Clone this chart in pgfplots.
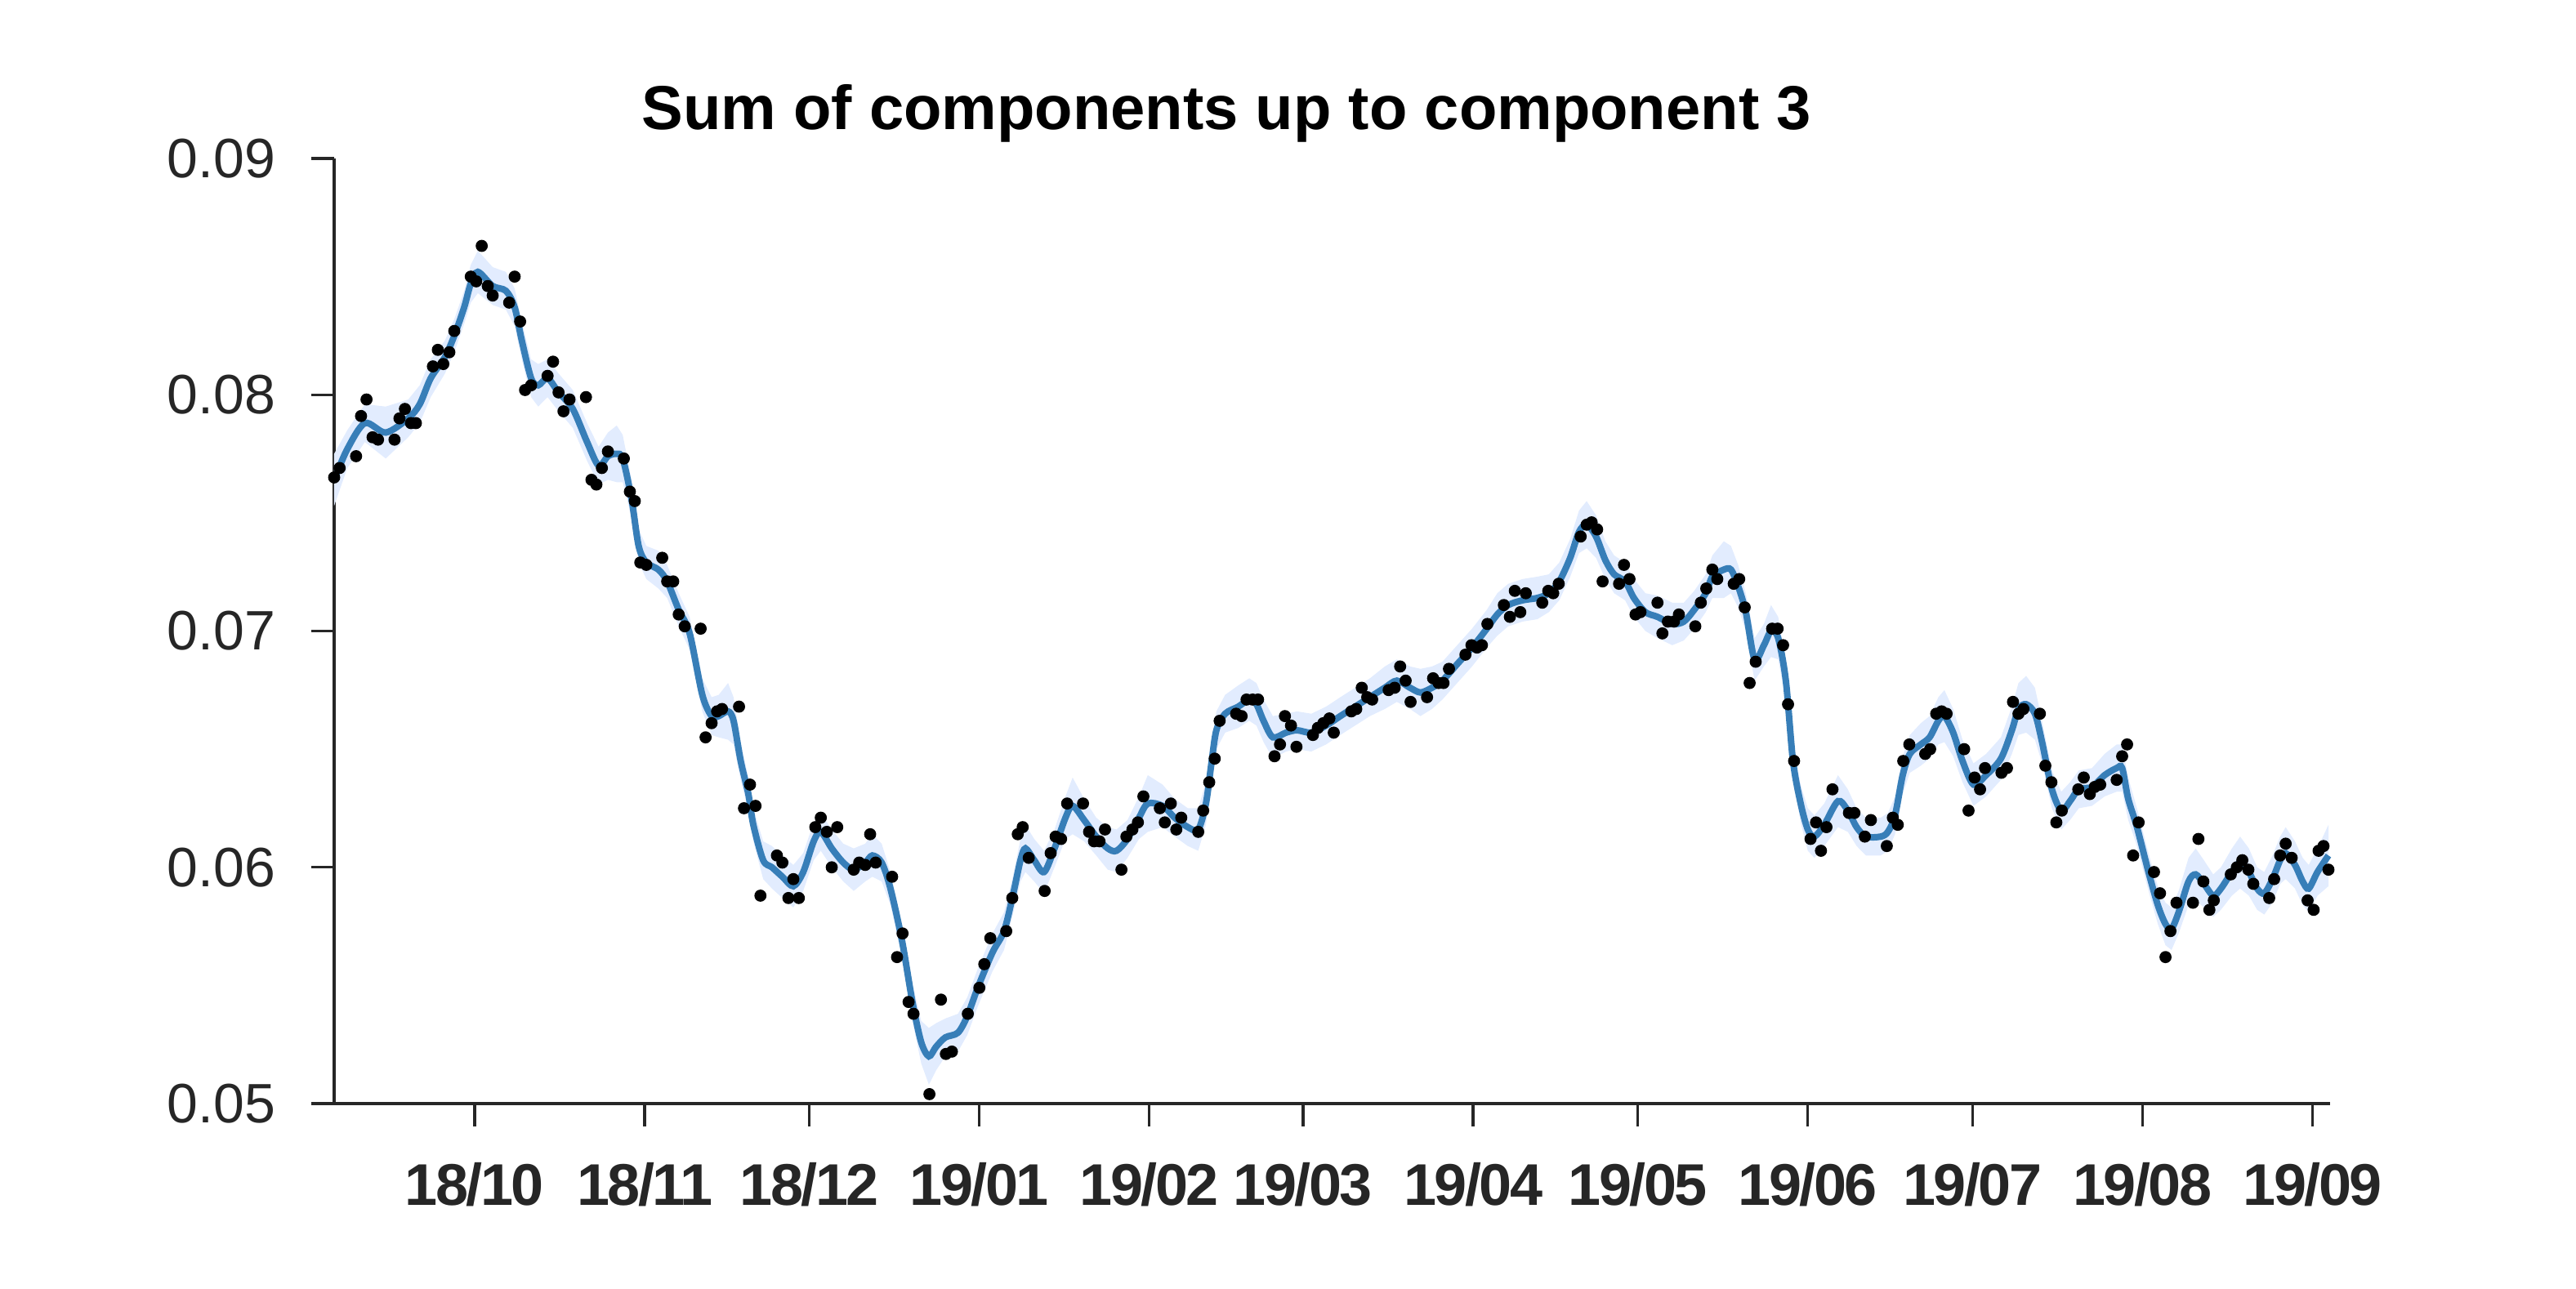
\documentclass[border=0pt]{standalone}
\usepackage{fontspec}
\setmainfont{Liberation Sans}
\newfontfamily\xlabfont[LetterSpace=-3.5]{Liberation Sans}
\usepackage{pgfplots}
\pgfplotsset{compat=1.18}
\usepackage{pgfplotstable}
\usepgfplotslibrary{fillbetween}
\definecolor{fitblue}{HTML}{377EB8}
\definecolor{bandblue}{HTML}{E2ECFE}
\definecolor{axgray}{HTML}{262626}

% x = days since 2018-10-01
\pgfplotstableread{
d v
-25.6 0.0765
-24.6 0.0769
-21.6 0.0774
-20.7 0.0791
-19.7 0.0798
-18.6 0.0782
-17.6 0.0781
-14.6 0.0781
-13.7 0.0790
-12.7 0.0794
-11.6 0.0788
-10.7 0.0788
-7.6 0.0812
-6.7 0.0819
-5.7 0.0813
-4.6 0.0818
-3.7 0.0827
-0.7 0.0850
0.3 0.0848
1.3 0.0863
2.4 0.0846
3.3 0.0842
6.3 0.0839
7.3 0.0850
8.3 0.0831
9.2 0.0802
10.3 0.0804
13.3 0.0808
14.3 0.0814
15.3 0.0801
16.2 0.0793
17.3 0.0798
20.3 0.0799
21.3 0.0764
22.2 0.0762
23.2 0.0769
24.3 0.0776
27.2 0.0773
28.3 0.0759
29.2 0.0755
30.2 0.0729
31.3 0.0728
34.2 0.0731
35.1 0.0721
36.2 0.0721
37.2 0.0707
38.3 0.0702
41.2 0.0701
42.1 0.0655
43.2 0.0661
44.2 0.0666
45.1 0.0667
48.2 0.0668
49.1 0.0625
50.2 0.0635
51.2 0.0626
52.1 0.0588
55.1 0.0605
56.1 0.0602
57.2 0.0587
58.1 0.0595
59.1 0.0587
62.1 0.0617
63.1 0.0621
64.2 0.0615
65.1 0.0600
66.1 0.0617
69.1 0.0599
70.1 0.0602
71.2 0.0601
72.1 0.0614
73.1 0.0602
76.1 0.0596
77.0 0.0562
78.0 0.0572
79.1 0.0543
80.0 0.0538
82.9 0.0504
85.0 0.0544
85.9 0.0521
87.0 0.0522
89.9 0.0538
92.0 0.0549
92.9 0.0559
94.0 0.0570
96.9 0.0573
98.0 0.0587
99.0 0.0614
99.9 0.0617
101.0 0.0604
103.9 0.0590
105.0 0.0606
105.9 0.0613
106.9 0.0612
108.0 0.0627
110.9 0.0627
112.0 0.0615
112.9 0.0611
113.9 0.0611
114.9 0.0616
117.9 0.0599
118.8 0.0613
119.9 0.0616
120.9 0.0619
121.9 0.0630
124.9 0.0625
125.8 0.0619
126.9 0.0627
127.9 0.0616
128.8 0.0621
131.9 0.0615
132.8 0.0624
133.9 0.0636
134.9 0.0646
135.8 0.0662
138.8 0.0665
139.8 0.0664
140.7 0.0671
141.8 0.0671
142.8 0.0671
145.8 0.0647
146.8 0.0652
147.7 0.0664
148.8 0.0660
149.8 0.0651
152.8 0.0656
153.7 0.0659
154.7 0.0661
155.8 0.0663
156.6 0.0657
159.8 0.0666
160.7 0.0667
161.7 0.0676
162.7 0.0672
163.6 0.0671
166.6 0.0675
167.7 0.0676
168.7 0.0685
169.7 0.0679
170.6 0.0670
173.6 0.0672
174.7 0.0680
175.7 0.0678
176.6 0.0678
177.6 0.0684
180.6 0.0690
181.7 0.0694
182.7 0.0693
183.6 0.0694
184.6 0.0703
187.6 0.0711
188.7 0.0706
189.6 0.0717
190.6 0.0708
191.6 0.0716
194.6 0.0712
195.7 0.0717
196.6 0.0716
197.6 0.0720
201.6 0.0740
202.7 0.0745
203.6 0.0746
204.6 0.0743
205.6 0.0721
208.6 0.0720
209.5 0.0728
210.5 0.0722
211.6 0.0707
212.5 0.0708
215.6 0.0712
216.5 0.0699
217.5 0.0704
218.6 0.0704
219.5 0.0707
222.5 0.0702
223.5 0.0712
224.5 0.0718
225.6 0.0726
226.5 0.0722
229.5 0.0720
230.5 0.0722
231.5 0.0710
232.4 0.0678
233.5 0.0687
236.5 0.0701
237.5 0.0701
238.5 0.0694
239.4 0.0669
240.5 0.0645
243.5 0.0612
244.5 0.0619
245.4 0.0607
246.4 0.0617
247.5 0.0633
250.5 0.0623
251.5 0.0623
253.4 0.0613
254.5 0.0620
257.4 0.0609
258.5 0.0621
259.4 0.0618
260.4 0.0645
261.5 0.0652
264.4 0.0648
265.3 0.0650
266.4 0.0665
267.4 0.0666
268.3 0.0665
271.5 0.0650
272.3 0.0624
273.4 0.0638
274.4 0.0633
275.3 0.0642
278.3 0.0640
279.3 0.0642
280.4 0.0670
281.4 0.0665
282.3 0.0667
285.3 0.0665
286.3 0.0643
287.4 0.0636
288.3 0.0619
289.3 0.0624
292.3 0.0633
293.3 0.0638
294.4 0.0631
295.3 0.0634
296.3 0.0635
299.3 0.0637
300.3 0.0647
301.2 0.0652
302.3 0.0605
303.3 0.0619
306.1 0.0598
307.2 0.0589
308.2 0.0562
309.1 0.0573
310.2 0.0585
313.2 0.0585
314.2 0.0612
315.1 0.0594
316.2 0.0582
317.0 0.0586
320.1 0.0597
321.2 0.0600
322.2 0.0603
323.3 0.0599
324.2 0.0593
327.1 0.0587
328.0 0.0595
329.1 0.0605
330.1 0.0610
331.2 0.0604
334.1 0.0586
335.2 0.0582
336.1 0.0607
337.0 0.0609
337.9 0.0599
}\obs

% fitted sum of components and half-width of the shaded band
\pgfplotstableread{
d f e
-25.6 0.0764 0.0011
-23.2 0.0777 0.0008
-20.0 0.0788 0.0008
-16.2 0.0784 0.0011
-12.1 0.0790 0.0008
-10.0 0.0796 0.0008
-8.0 0.0807 0.0008
-5.4 0.0816 0.0007
-3.7 0.0825 0.0007
-1.9 0.0837 0.0007
-0.7 0.0847 0.0008
0.6 0.0852 0.0009
3.3 0.0846 0.0008
5.7 0.0844 0.0008
7.3 0.0837 0.0008
8.6 0.0823 0.0008
10.3 0.0807 0.0008
11.6 0.0804 0.0009
13.3 0.0807 0.0008
15.3 0.0801 0.0008
17.9 0.0794 0.0008
20.5 0.0780 0.0008
22.6 0.0770 0.0008
24.3 0.0774 0.0010
25.9 0.0775 0.0012
27.0 0.0773 0.0010
28.6 0.0756 0.0008
29.9 0.0736 0.0007
31.3 0.0729 0.0007
33.5 0.0726 0.0008
35.1 0.0721 0.0007
37.2 0.0709 0.0007
39.2 0.0699 0.0007
41.5 0.0673 0.0007
43.2 0.0664 0.0008
44.5 0.0664 0.0009
46.2 0.0666 0.0012
47.2 0.0662 0.0010
48.5 0.0645 0.0008
49.9 0.0631 0.0007
50.8 0.0618 0.0007
52.6 0.0603 0.0008
54.2 0.0600 0.0009
56.1 0.0596 0.0009
58.1 0.0592 0.0009
59.9 0.0598 0.0008
61.8 0.0611 0.0008
63.1 0.0615 0.0008
65.1 0.0608 0.0008
67.2 0.0602 0.0008
69.1 0.0599 0.0009
71.2 0.0602 0.0008
72.5 0.0605 0.0009
74.2 0.0602 0.0008
75.8 0.0591 0.0007
77.9 0.0569 0.0007
79.8 0.0543 0.0008
81.4 0.0526 0.0009
82.8 0.0520 0.0012
84.1 0.0524 0.0010
85.8 0.0528 0.0008
88.1 0.0530 0.0008
89.8 0.0537 0.0008
91.7 0.0549 0.0008
94.4 0.0564 0.0008
96.5 0.0573 0.0008
98.1 0.0588 0.0008
99.5 0.0603 0.0009
100.4 0.0608 0.0010
102.0 0.0603 0.0009
103.8 0.0598 0.0009
105.7 0.0608 0.0008
107.7 0.0621 0.0009
109.0 0.0626 0.0012
111.1 0.0620 0.0009
113.3 0.0613 0.0008
115.4 0.0608 0.0009
117.0 0.0607 0.0009
119.0 0.0612 0.0008
121.1 0.0621 0.0009
122.7 0.0627 0.0012
125.4 0.0626 0.0009
127.6 0.0621 0.0008
130.0 0.0617 0.0008
131.9 0.0616 0.0009
133.3 0.0627 0.0009
134.3 0.0644 0.0008
135.2 0.0658 0.0008
136.8 0.0665 0.0008
139.2 0.0668 0.0009
141.2 0.0671 0.0009
142.5 0.0669 0.0009
143.8 0.0662 0.0009
145.5 0.0655 0.0009
147.9 0.0657 0.0008
149.9 0.0658 0.0008
152.5 0.0657 0.0008
155.2 0.0660 0.0008
157.8 0.0664 0.0008
160.5 0.0668 0.0008
163.2 0.0672 0.0008
165.9 0.0676 0.0009
168.1 0.0679 0.0009
170.5 0.0676 0.0009
172.4 0.0674 0.0010
174.5 0.0676 0.0009
176.4 0.0679 0.0008
179.1 0.0686 0.0008
181.8 0.0693 0.0008
184.5 0.0701 0.0008
186.4 0.0707 0.0009
188.4 0.0711 0.0009
191.0 0.0713 0.0009
193.7 0.0714 0.0009
195.8 0.0716 0.0008
197.7 0.0721 0.0008
199.7 0.0731 0.0008
201.3 0.0742 0.0009
202.7 0.0745 0.0010
204.4 0.0740 0.0009
206.1 0.0730 0.0008
207.7 0.0724 0.0008
209.7 0.0721 0.0008
211.3 0.0714 0.0008
213.4 0.0708 0.0008
215.6 0.0706 0.0009
218.3 0.0703 0.0009
220.4 0.0704 0.0008
222.3 0.0709 0.0008
224.4 0.0716 0.0008
225.6 0.0723 0.0009
227.7 0.0726 0.0012
229.0 0.0726 0.0010
230.3 0.0719 0.0009
231.7 0.0708 0.0008
233.3 0.0688 0.0009
235.0 0.0694 0.0009
236.3 0.0700 0.0011
237.6 0.0697 0.0009
239.0 0.0679 0.0008
240.3 0.0645 0.0007
241.7 0.0627 0.0008
243.0 0.0616 0.0009
244.2 0.0613 0.0009
246.0 0.0618 0.0009
248.5 0.0628 0.0011
250.3 0.0624 0.0009
251.9 0.0617 0.0008
253.6 0.0613 0.0008
256.3 0.0613 0.0008
257.6 0.0615 0.0008
258.9 0.0622 0.0008
260.3 0.0639 0.0008
261.6 0.0648 0.0008
263.6 0.0652 0.0009
265.2 0.0655 0.0009
266.8 0.0662 0.0010
267.9 0.0664 0.0011
269.5 0.0657 0.0010
271.2 0.0645 0.0009
273.2 0.0635 0.0009
275.5 0.0639 0.0009
278.2 0.0646 0.0009
280.2 0.0658 0.0010
281.4 0.0667 0.0011
282.8 0.0669 0.0012
284.4 0.0665 0.0011
285.7 0.0653 0.0009
287.5 0.0633 0.0008
289.2 0.0624 0.0008
290.8 0.0628 0.0008
292.4 0.0633 0.0008
294.8 0.0634 0.0008
297.1 0.0639 0.0009
299.3 0.0642 0.0010
300.3 0.0642 0.0010
301.4 0.0629 0.0009
303.0 0.0617 0.0008
305.1 0.0598 0.0008
306.8 0.0584 0.0008
308.2 0.0576 0.0009
309.3 0.0574 0.0009
310.6 0.0581 0.0009
312.4 0.0594 0.0010
313.7 0.0597 0.0011
315.2 0.0593 0.0010
316.9 0.0588 0.0009
318.3 0.0591 0.0009
320.3 0.0598 0.0010
321.8 0.0602 0.0011
323.4 0.0598 0.0010
324.9 0.0591 0.0009
326.2 0.0589 0.0009
327.7 0.0595 0.0010
329.1 0.0603 0.0010
330.1 0.0606 0.0011
331.8 0.0601 0.0010
333.2 0.0594 0.0010
334.3 0.0591 0.0010
335.9 0.0598 0.0010
337.9 0.0605 0.0013
}\fit

\begin{document}
\begin{tikzpicture}
\begin{axis}[
  scale only axis, width=610.75pt, height=289.25pt,
  xmin=-25.6, xmax=338.2, ymin=0.05, ymax=0.09,
  clip=false,
  axis x line*=bottom, axis y line*=left,
  axis line style={axgray, line width=0.8pt, -},
  tick align=outside, major tick length=7pt,
  tick style={axgray, line width=0.8pt},
  xtick={0,31,61,92,123,151,182,212,243,273,304,335},
  xticklabels={18/10,18/11,18/12,19/01,19/02,19/03,19/04,19/05,19/06,19/07,19/08,19/09},
  ytick={0.05,0.06,0.07,0.08,0.09},
  yticklabels={0.05,0.06,0.07,0.08,0.09},
  scaled y ticks=false,
  xticklabel style={font=\xlabfont\fontsize{18}{21}\selectfont\bfseries, text=axgray, anchor=north, inner sep=0pt, yshift=-11pt},
  yticklabel style={font=\fontsize{17}{20}\selectfont, text=axgray, anchor=east, inner sep=0pt, xshift=-10.75pt},
  title={Sum of components up to component 3},
  title style={font=\fontsize{19}{22}\selectfont\bfseries, at={(0.447,1)}, anchor=base, yshift=3pt},
]
\addplot[name path=up, draw=none] table[x=d, y expr=\thisrow{f}+\thisrow{e}]{\fit};
\addplot[name path=lo, draw=none] table[x=d, y expr=\thisrow{f}-\thisrow{e}]{\fit};
\addplot[bandblue, draw=none] fill between[of=up and lo];
\addplot[fitblue, line width=2pt, smooth] table[x=d, y=f]{\fit};
\addplot[only marks, mark=*, mark size=1.65pt, black] table[x=d, y=v]{\obs};
\end{axis}
\pgfresetboundingbox
\path[use as bounding box] (-102.25pt,-56.5pt) rectangle (686pt,337.75pt);
\end{tikzpicture}
\end{document}
